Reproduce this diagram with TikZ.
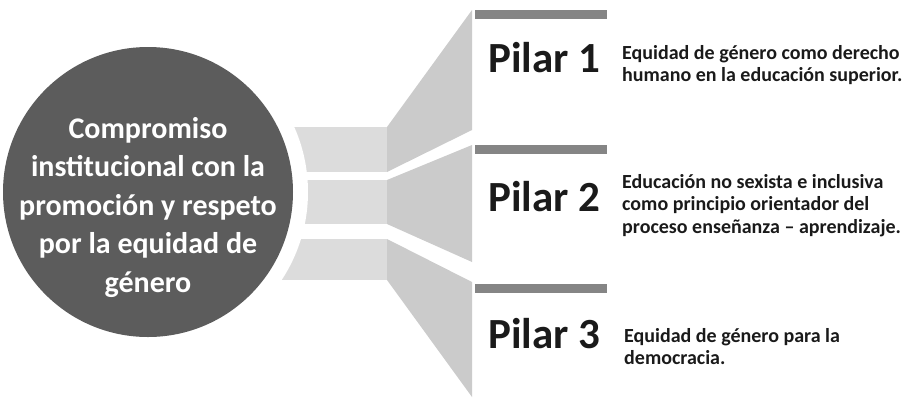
\documentclass[tikz,border=0pt]{standalone}
\usepackage{fontspec}
\setmainfont{Carlito}

\definecolor{hubgray}{HTML}{5C5C5C}
\definecolor{bandgray}{HTML}{DCDCDC}
\definecolor{fangray}{HTML}{CBCBCB}
\definecolor{bargray}{HTML}{858585}
\definecolor{inkgray}{HTML}{1A1A1A}

\begin{document}
\begin{tikzpicture}[x=1pt, y=-1pt,
    hub/.style={circle, fill=hubgray, minimum size=290pt, inner sep=0pt},
    hubtext/.style={text=white, font=\fontsize{30}{38.5}\selectfont\bfseries, align=center, inner sep=0pt, anchor=north},
    bar/.style={fill=bargray, minimum width=132pt, minimum height=9pt, inner sep=0pt, anchor=north west},
    pilar/.style={font=\fontsize{43}{43}\selectfont\bfseries, text=inkgray, inner sep=0pt, anchor=base west},
    desc/.style={font=\fontsize{20}{22.5}\selectfont\bfseries, text=inkgray, align=left, inner sep=0pt, anchor=north west}]

        \useasboundingbox (0,0) rectangle (914,400);

        % bands out of the circle
        \fill[bandgray] (280,127) rectangle (387,172);
        \fill[bandgray] (280,180) rectangle (387,224);
        \fill[bandgray] (280,239) rectangle (387,280);

        % fans up to the pillars
        \fill[fangray] (387,127) -- (472,10) -- (472,130) -- (387,172) -- cycle;
        \fill[fangray] (387,180) -- (472,145) -- (472,262) -- (387,224) -- cycle;
        \fill[fangray] (387,239) -- (472,282) -- (472,397) -- (387,280) -- cycle;

        \fill[white] (148,192) circle (160pt);
        \node[hub] (hub) at (148,192) {};
        \node[hubtext] (hubtxt) at (148,117) {Compromiso\\institucional con la\\promoción y respeto\\por la equidad de\\género};

        \node[bar] (bar1) at (475,10) {};
        \node[bar] (bar2) at (475,145) {};
        \node[bar] (bar3) at (475,284) {};

        \node[pilar] (pilar1) at (488,72) {Pilar 1};
        \node[pilar] (pilar2) at (488,211) {Pilar 2};
        \node[pilar] (pilar3) at (488,348) {Pilar 3};

        \node[desc] (desc1) at (622,45) {Equidad de género como derecho\\humano en la educación superior.};
        \node[desc] (desc2) at (622,174) {Educación no sexista e inclusiva\\como principio orientador del\\proceso enseñanza – aprendizaje.};
        \node[desc] (desc3) at (624,328) {Equidad de género para la\\democracia.};
      \end{tikzpicture}
\end{document}
